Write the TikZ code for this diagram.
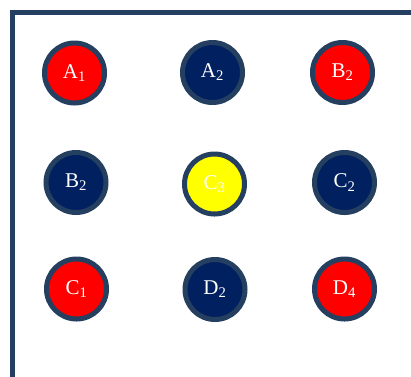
\documentclass[tikz,border=0pt]{standalone}
\usepackage{fontspec}
\setmainfont{Liberation Serif}
\definecolor{rimblue}{HTML}{243F60}
\definecolor{navy}{HTML}{002060}
\definecolor{redfill}{HTML}{FF0000}
\definecolor{yellowfill}{HTML}{FFFF00}
\tikzset{
  ball/.style={circle, draw=rimblue, line width=5pt, minimum size=60pt, inner sep=0pt,
    text=white, font=\fontsize{21}{21}\selectfont},
  redball/.style={ball, fill=redfill},
  navyball/.style={ball, fill=navy},
  yellowball/.style={ball, fill=yellowfill},
  frame/.style={draw=rimblue, line width=5pt}
}
\begin{document}
\begin{tikzpicture}[x=1pt,y=-1pt]
\useasboundingbox (0,0) rectangle (411,376);
\coordinate (fb) at (12.5,380);
\coordinate (fc) at (12.5,12.5);
\coordinate (fr) at (415,12.5);
\draw[frame] (fb) -- (fc) -- (fr);
\node[redball]    (a1) at (74.5,73)  {A\textsubscript{1}};
\node[navyball]   (a2) at (212.5,72.5) {A\textsubscript{2}};
\node[redball]    (b2a) at (342.5,72.5) {B\textsubscript{2}};
\node[navyball]   (b2b) at (76,182.5) {B\textsubscript{2}};
\node[yellowball] (c3) at (214.5,184) {C\textsubscript{3}};
\node[navyball]   (c2) at (344.5,182.5) {C\textsubscript{2}};
\node[redball]    (c1) at (76.5,289) {C\textsubscript{1}};
\node[navyball]   (d2) at (215,289.5) {D\textsubscript{2}};
\node[redball]    (d4) at (344.5,289) {D\textsubscript{4}};
\end{tikzpicture}
\end{document}
